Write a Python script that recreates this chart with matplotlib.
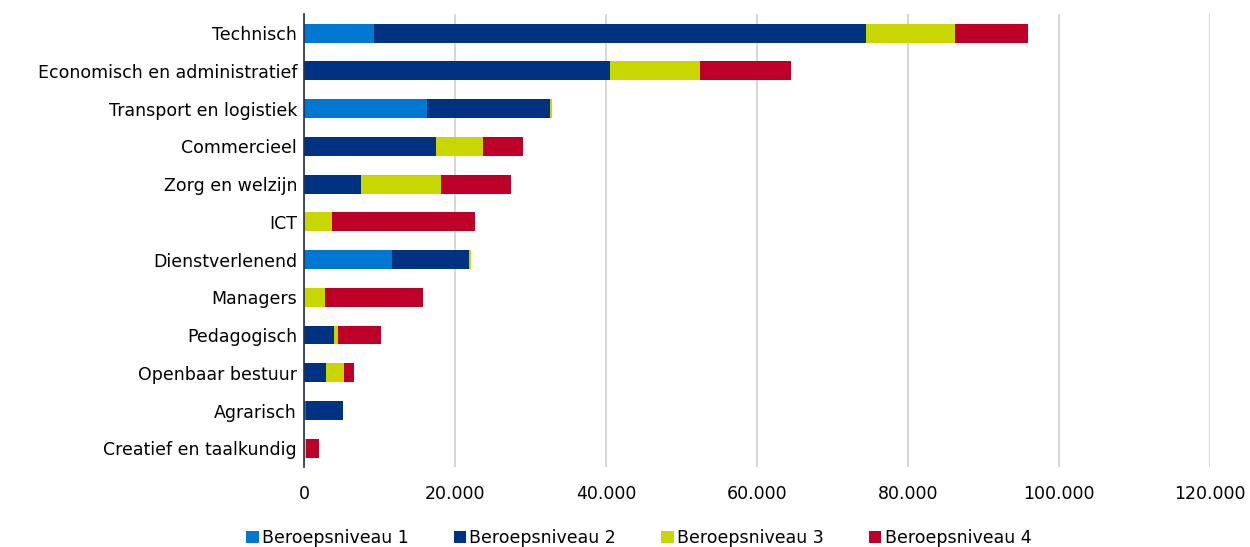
import matplotlib
matplotlib.use("Agg")
import matplotlib.pyplot as plt
import numpy as np

categories = ["Technisch", "Economisch en administratief", "Transport en logistiek",
              "Commercieel", "Zorg en welzijn", "ICT", "Dienstverlenend", "Managers",
              "Pedagogisch", "Openbaar bestuur", "Agrarisch", "Creatief en taalkundig"]
niveau1 = [9300, 0, 16300, 0, 0, 0, 11700, 0, 0, 0, 300, 0]
niveau2 = [65100, 40500, 16300, 17500, 7500, 0, 10100, 0, 4000, 2900, 4900, 0]
niveau3 = [11800, 11900, 300, 6200, 10700, 3700, 300, 2800, 500, 2400, 0, 200]
niveau4 = [9700, 12100, 0, 5300, 9200, 18900, 0, 12900, 5700, 1300, 0, 1800]
series_names = ["Beroepsniveau 1", "Beroepsniveau 2", "Beroepsniveau 3", "Beroepsniveau 4"]
colors = ["#0078D2", "#003282", "#C8D700", "#BE0028"]
xticks = [0, 20000, 40000, 60000, 80000, 100000, 120000]
xticklabels = ["0", "20.000", "40.000", "60.000", "80.000", "100.000", "120.000"]

plt.rcParams['font.family'] = ['DejaVu Sans']
fig = plt.figure(figsize=(12.5, 5.47), dpi=100)
ax = fig.add_axes([0.2432, 0.146, 0.7248, 0.828])

y = np.arange(len(categories))
left = np.zeros(len(categories))
for vals, name, c in zip([niveau1, niveau2, niveau3, niveau4], series_names, colors):
    vals = np.array(vals, dtype=float)
    ax.barh(y, vals, left=left, height=0.5, color=c, label=name, zorder=3)
    left += vals

ax.set_ylim(len(categories) - 0.5, -0.5)
ax.set_xlim(0, 120000)
ax.set_yticks(y)
ax.set_yticklabels(categories, fontsize=12.5, color="#000000")
ax.set_xticks(xticks)
ax.set_xticklabels(xticklabels, fontsize=12.5, color="#000000")
ax.tick_params(axis='both', length=0)
ax.tick_params(axis='x', pad=13)
ax.tick_params(axis='y', pad=5)
ax.grid(axis='x', color="#D0D0D0", linewidth=1.2, zorder=0)
for s in ["top", "right", "bottom"]:
    ax.spines[s].set_visible(False)
ax.spines["left"].set_color("#1F3050")
ax.spines["left"].set_linewidth(1.2)
ax.spines["left"].set_zorder(4)

leg = fig.legend(loc="lower center", bbox_to_anchor=(0.511, -0.028), ncol=4, frameon=False,
                 fontsize=12.5, handlelength=0.7, handleheight=0.7, handletextpad=0.2,
                 columnspacing=2.6)
fig.savefig("out.png", dpi=100)
